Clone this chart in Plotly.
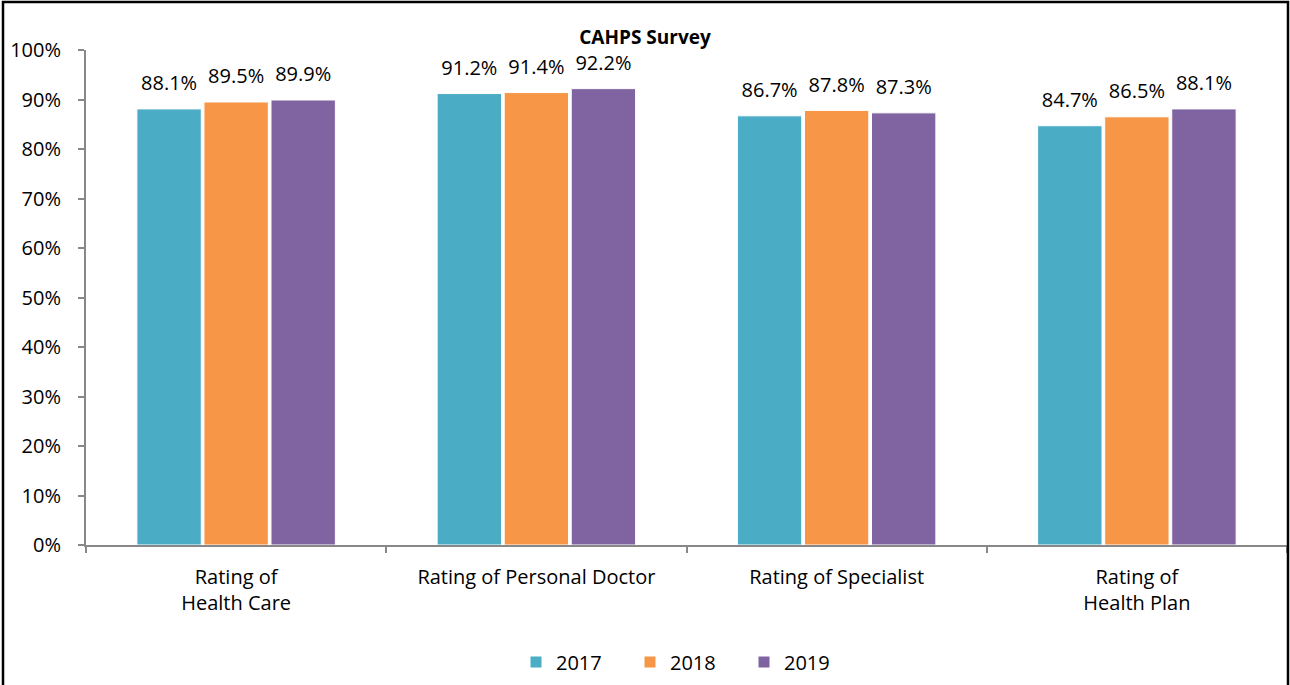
import plotly.graph_objects as go

categories = ["Rating of<br>Health Care", "Rating of Personal Doctor", "Rating of Specialist", "Rating of<br>Health Plan"]
years = ["2017", "2018", "2019"]
values_2017 = [88.1, 91.2, 86.7, 84.7]
values_2018 = [89.5, 91.4, 87.8, 86.5]
values_2019 = [89.9, 92.2, 87.3, 88.1]
colors = ["#4BACC6", "#F79646", "#8064A2"]
y_ticks = [0, 10, 20, 30, 40, 50, 60, 70, 80, 90, 100]

FONT = "Open Sans, sans-serif"
W, H = 1290, 685
ML, MR, MT, MB = 86, 3, 50, 140
PW, PH = W - ML - MR, H - MT - MB

fig = go.Figure()
for name, vals, col in zip(years, [values_2017, values_2018, values_2019], colors):
    fig.add_trace(go.Bar(
        x=categories, y=vals, name=name,
        marker=dict(color=col, line=dict(color="white", width=1)),
        texttemplate="<span style='font-size:20px'>%{y:.1f}%</span><br><span style='font-size:1px'>\u00a0</span>",
        textposition="outside",
        textfont=dict(family=FONT, size=12, color="black"),
        cliponaxis=False,
    ))

def px_x(p):
    return (p - ML) / PW

def px_y(p):
    return (H - MB - p) / PH

fig.update_layout(
    width=W, height=H,
    margin=dict(l=ML, r=MR, t=MT, b=MB),
    paper_bgcolor="white", plot_bgcolor="white",
    barmode="group", bargap=0.33, bargroupgap=0.04,
    font=dict(family=FONT, size=18, color="black"),
    title=dict(text="<b>CAHPS Survey</b>", x=0.5, xanchor="center", y=1 - 37 / H, yanchor="middle",
               font=dict(family=FONT, size=19, color="black")),
    showlegend=True,
    legend=dict(orientation="h", x=px_x(516), xanchor="left", y=px_y(662), yanchor="middle",
                font=dict(family=FONT, size=20), traceorder="normal",
                entrywidth=69, entrywidthmode="pixels", itemwidth=30),
    shapes=[dict(type="rect", xref="paper", yref="paper",
                 x0=px_x(3), x1=px_x(1288), y0=px_y(700), y1=px_y(2),
                 line=dict(color="black", width=2.5), fillcolor="rgba(0,0,0,0)", layer="above")],
)
fig.update_yaxes(range=[0, 100], tickvals=y_ticks, ticktext=[f"{t}%" for t in y_ticks],
                 showgrid=False, showline=True, linecolor="#888888", linewidth=2,
                 ticks="outside", ticklen=6, tickcolor="#888888", tickwidth=2,
                 ticklabelstandoff=13,
                 tickfont=dict(family=FONT, size=20), zeroline=False)
fig.update_xaxes(showgrid=False, showline=True, linecolor="#888888", linewidth=2,
                 ticks="outside", ticklen=6, tickcolor="#888888", tickwidth=2,
                 tickson="boundaries", ticklabelstandoff=13, tickfont=dict(family=FONT, size=20))

fig.write_html("out.html", config={"displayModeBar": False},
               post_script="document.body.style.margin='0';document.body.style.overflow='hidden';")
